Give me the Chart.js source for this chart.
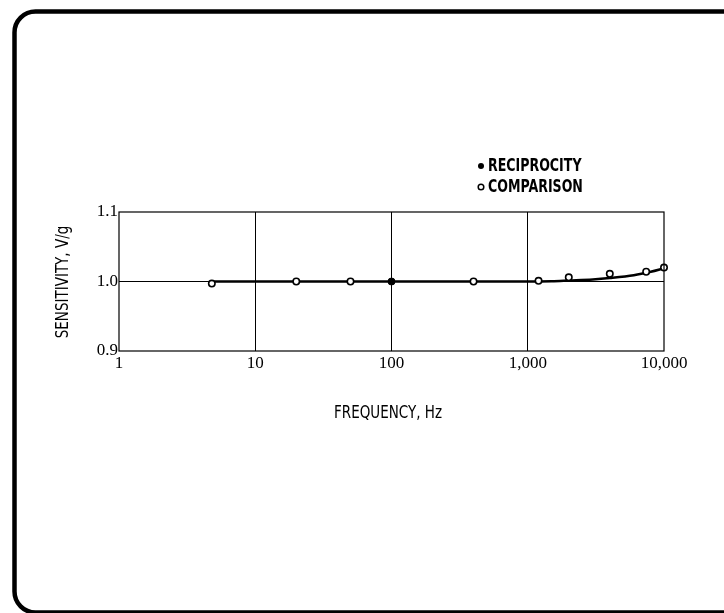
<!DOCTYPE html>
<html>
<head>
<meta charset="utf-8">
<script src="https://cdn.jsdelivr.net/npm/chart.js@4/dist/chart.umd.min.js"></script>
<style>
  html, body { margin: 0; padding: 0; background: #fff; }
  #wrap { width: 724px; height: 613px; position: relative; }
</style>
</head>
<body>
<div id="wrap"><canvas id="chart"></canvas></div>
<script>
// data
var comparisonFreq = [4.8, 20, 50, 400, 1200, 2000, 4000, 7400, 10000];
var comparisonSens = [0.997, 1.0, 1.0, 1.0, 1.001, 1.006, 1.011, 1.014, 1.020];
var reciprocityFreq = [100];
var reciprocitySens = [1.0];
var curveFreq = [5, 100, 1000, 1500, 2000, 3000, 4000, 6000, 8000, 10000];
var curveSens = [1.0, 1.0, 1.0, 1.0005, 1.0015, 1.003, 1.005, 1.009, 1.014, 1.019];
var xTicks = [1, 10, 100, 1000, 10000];
var xTickLabels = ["1", "10", "100", "1,000", "10,000"];
var yTicks = [0.9, 1.0, 1.1];

var sansFont = '"Liberation Sans Narrow", "DejaVu Sans Condensed", sans-serif';
var serifFont = '"Liberation Serif", "DejaVu Serif", serif';

function pairs(xs, ys) {
    return xs.map(function (x, i) { return { x: x, y: ys[i] }; });
}

// tall, narrow text like the original lettering
function tallText(ctx, text, x, y, sy) {
    ctx.save();
    ctx.translate(x, y);
    ctx.scale(1, sy);
    ctx.fillText(text, 0, 0);
    ctx.restore();
}

// frame, plot border, legend and axis titles
var decorPlugin = {
    id: 'decor',
    beforeDraw: function (chart) {
        var ctx = chart.ctx;
        ctx.save();
        ctx.fillStyle = '#fff';
        ctx.fillRect(0, 0, chart.width, chart.height);
        ctx.strokeStyle = '#000';
        ctx.lineWidth = 4.5;
        ctx.beginPath();
        ctx.roundRect(14.5, 11.5, 730, 601, 21);
        ctx.stroke();
        ctx.restore();
    },
    afterDraw: function (chart) {
        var ctx = chart.ctx;
        var a = chart.chartArea;
        ctx.save();
        ctx.strokeStyle = '#000';
        ctx.lineWidth = 1.2;
        ctx.strokeRect(a.left, a.top, a.right - a.left, a.bottom - a.top);

        // legend
        ctx.fillStyle = '#000';
        ctx.font = 'bold 14px ' + sansFont;
        ctx.textBaseline = 'middle';
        ctx.textAlign = 'left';
        ctx.beginPath();
        ctx.arc(481, 166, 3, 0, Math.PI * 2);
        ctx.fill();
        tallText(ctx, 'RECIPROCITY', 488, 166, 1.25);
        ctx.beginPath();
        ctx.lineWidth = 1.5;
        ctx.arc(481, 187, 2.8, 0, Math.PI * 2);
        ctx.stroke();
        tallText(ctx, 'COMPARISON', 488, 187, 1.25);

        // axis titles
        ctx.font = '15px ' + sansFont;
        ctx.textAlign = 'center';
        tallText(ctx, 'FREQUENCY, Hz', 388, 413, 1.2);
        ctx.translate(63, 282);
        ctx.rotate(-Math.PI / 2);
        tallText(ctx, 'SENSITIVITY, V/g', 0, 0, 1.2);
        ctx.restore();
    }
};

new Chart(document.getElementById('chart'), {
    type: 'scatter',
    data: {
        datasets: [{
            label: 'curve',
            data: pairs(curveFreq, curveSens),
            showLine: true,
            borderColor: '#000',
            borderWidth: 2.5,
            pointRadius: 0,
            cubicInterpolationMode: 'monotone',
            order: 2
        },
        {
            label: 'COMPARISON',
            data: pairs(comparisonFreq, comparisonSens),
            pointRadius: 3.2,
            pointBorderWidth: 1.6,
            pointBackgroundColor: '#fff',
            pointBorderColor: '#000',
            clip: false,
            order: 1
        },
        {
            label: 'RECIPROCITY',
            data: pairs(reciprocityFreq, reciprocitySens),
            pointRadius: 3.5,
            pointBorderWidth: 1,
            pointBackgroundColor: '#000',
            pointBorderColor: '#000',
            order: 0
        }]
    },
    options: {
        responsive: true,
        maintainAspectRatio: false,
        animation: false,
        layout: { padding: { left: 0, right: 60, top: 212, bottom: 232 } },
        plugins: { legend: { display: false }, tooltip: { enabled: false } },
        scales: {
            x: {
                type: 'logarithmic',
                min: 1,
                max: 10000,
                afterBuildTicks: function (axis) {
                    axis.ticks = xTicks.map(function (v) { return { value: v }; });
                },
                afterFit: function (axis) { axis.height = 30; },
                ticks: {
                    autoSkip: false,
                    maxRotation: 0,
                    padding: 2,
                    color: '#000',
                    font: { family: serifFont, size: 17 },
                    callback: function (v) {
                        var i = xTicks.indexOf(v);
                        return i >= 0 ? xTickLabels[i] : '';
                    }
                },
                grid: {
                    color: function (c) {
                        var v = c.tick ? c.tick.value : 0;
                        return (v === 1 || v === 10000) ? 'rgba(0,0,0,0)' : '#000';
                    },
                    lineWidth: 1,
                    drawTicks: false
                },
                border: { display: false }
            },
            y: {
                min: 0.9,
                max: 1.1,
                afterBuildTicks: function (axis) {
                    axis.ticks = yTicks.map(function (v) { return { value: v }; });
                },
                afterFit: function (axis) { axis.width = 119; },
                ticks: {
                    padding: 1,
                    color: '#000',
                    font: { family: serifFont, size: 17 },
                    callback: function (v) { return Number(v).toFixed(1); }
                },
                grid: {
                    color: function (c) {
                        var v = c.tick ? c.tick.value : 0;
                        return Math.abs(v - 1.0) < 1e-6 ? '#000' : 'rgba(0,0,0,0)';
                    },
                    lineWidth: 1,
                    drawTicks: false
                },
                border: { display: false }
            }
        }
    },
    plugins: [decorPlugin]
});
</script>
</body>
</html>
